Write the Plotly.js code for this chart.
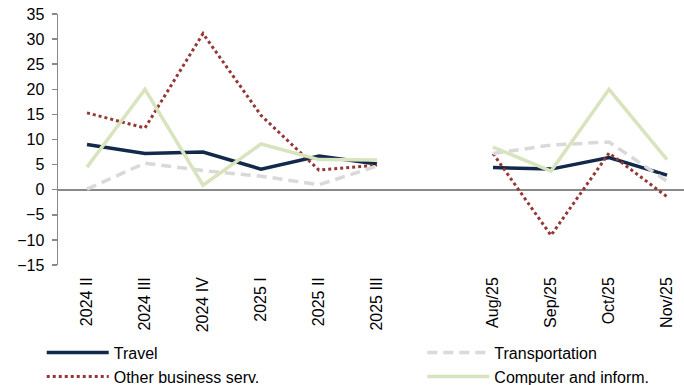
<!DOCTYPE html>
<html>
<head>
<meta charset="utf-8">
<script src="https://cdn.plot.ly/plotly-3.0.1.min.js"></script>
<style>html,body{margin:0;padding:0;background:#fff}#chart{width:684px;height:385px}</style>
</head>
<body>
<div id="chart"></div>
<script>
const categories = ["2024 II","2024 III","2024 IV","2025 I","2025 II","2025 III"," ","Aug/25","Sep/25","Oct/25","Nov/25"];
const travel = [9.0, 7.2, 7.5, 4.1, 6.7, 5.1, null, 4.4, 4.1, 6.4, 2.9];
const transportation = [0.1, 5.3, 3.8, 2.7, 1.0, 4.7, null, 7.2, 8.9, 9.5, 1.7];
const otherBusiness = [15.3, 12.3, 31.1, 14.8, 3.9, 4.9, null, 7.2, -9.1, 7.3, -1.4];
const computer = [4.5, 20.0, 0.9, 9.1, 6.0, 5.9, null, 8.5, 3.7, 20.0, 6.0];
const yTicks = [-15, -10, -5, 0, 5, 10, 15, 20, 25, 30, 35];

const font = "Liberation Sans, Arial, sans-serif";
const traces = [
  {name: "Travel", y: travel, line: {color: "#13294B", width: 3.5}, legend: "legend"},
  {name: "Other business serv.", y: otherBusiness, line: {color: "#953735", width: 3, dash: "dot"}, legend: "legend"},
  {name: "Transportation", y: transportation, line: {color: "#D9D9D9", width: 3.5, dash: "10px,6px"}, legend: "legend2"},
  {name: "Computer and inform.", y: computer, line: {color: "#D7E4BD", width: 3.5}, legend: "legend2"}
].map(t => Object.assign({type: "scatter", mode: "lines", x: categories, connectgaps: false}, t));

const layout = {
  width: 684, height: 385,
  margin: {l: 58, r: 0, t: 14, b: 120},
  paper_bgcolor: "#fff", plot_bgcolor: "#fff",
  font: {family: font, size: 16, color: "#000"},
  showlegend: true,
  xaxis: {
    type: "category", categoryarray: categories, range: [-0.5, 10.293],
    showgrid: false, showline: false, zeroline: false, ticks: "",
    tickangle: -90, tickfont: {size: 16, color: "#000"}, ticklabelstandoff: 8
  },
  yaxis: {
    range: [-15, 35], tickvals: yTicks, showgrid: false,
    showline: true, linecolor: "#898989", linewidth: 1.5,
    ticks: "outside", ticklen: 5, tickcolor: "#898989", tickwidth: 1.5,
    zeroline: true, zerolinecolor: "#898989", zerolinewidth: 2,
    tickfont: {size: 16, color: "#000"}, ticklabelstandoff: 4
  },
  legend: {
    x: -0.026, xanchor: "left", y: 0.128, yref: "container", yanchor: "top",
    orientation: "v", itemwidth: 62, font: {size: 16, color: "#000"},
    bgcolor: "rgba(0,0,0,0)", tracegroupgap: 0, itemclick: false
  },
  legend2: {
    x: 0.582, xanchor: "left", y: 0.128, yref: "container", yanchor: "top",
    orientation: "v", itemwidth: 62, font: {size: 16, color: "#000"},
    bgcolor: "rgba(0,0,0,0)", tracegroupgap: 0, itemclick: false
  }
};

Plotly.newPlot("chart", traces, layout, {displayModeBar: false, staticPlot: true});
</script>
</body>
</html>
